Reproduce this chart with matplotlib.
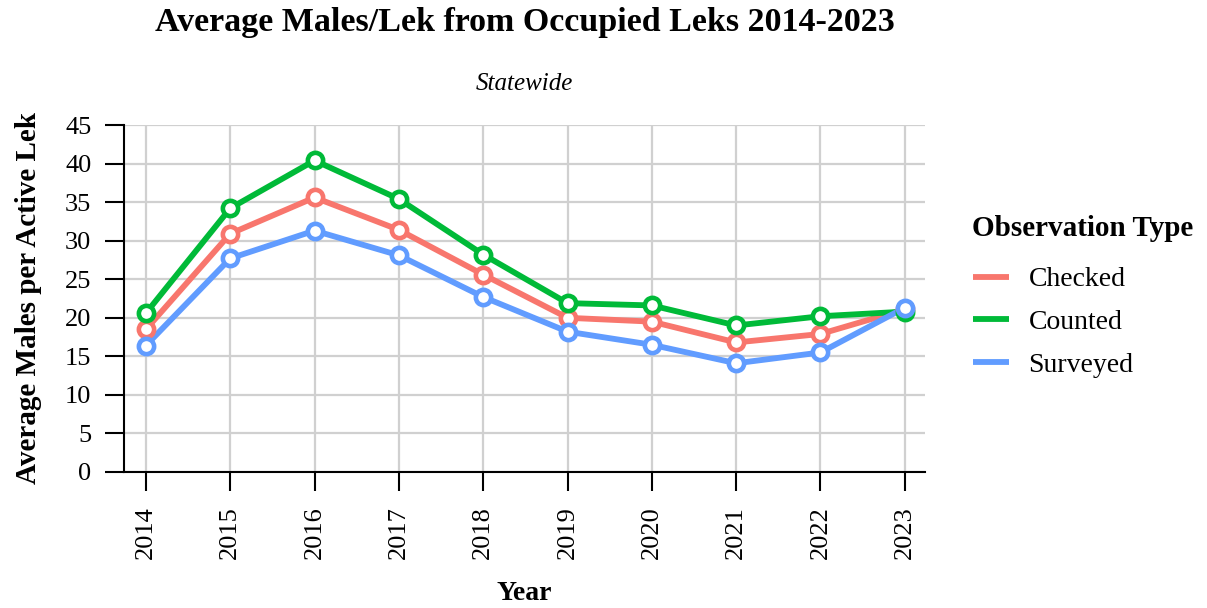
import matplotlib
matplotlib.use("Agg")
import matplotlib.pyplot as plt

years = [2014, 2015, 2016, 2017, 2018, 2019, 2020, 2021, 2022, 2023]
checked = [18.5, 30.9, 35.6, 31.4, 25.6, 20.0, 19.5, 16.8, 17.9, 21.1]
counted = [20.6, 34.2, 40.4, 35.4, 28.2, 21.9, 21.6, 19.0, 20.2, 20.8]
surveyed = [16.4, 27.7, 31.3, 28.1, 22.7, 18.2, 16.5, 14.1, 15.5, 21.3]

series_names = ["Checked", "Counted", "Surveyed"]
series_values = [checked, counted, surveyed]
series_colors = ["#F8766D", "#00BA38", "#619CFF"]

y_ticks = [0, 5, 10, 15, 20, 25, 30, 35, 40, 45]

plt.rcParams['font.family'] = ['Liberation Serif', 'DejaVu Serif']

fig = plt.figure(figsize=(12.07, 6.08), dpi=100)
ax = fig.add_axes([124 / 1207, 1 - 472 / 608, (925 - 124) / 1207, (472 - 125) / 608])

handles = []
for name, values, color in zip(series_names, series_values, series_colors):
    line, = ax.plot(years, values, color=color, linewidth=4.2, zorder=2, label=name,
                    solid_capstyle='butt')
    handles.append(line)
for values, color in zip(series_values, series_colors):
    ax.plot(years, values, linestyle='none', marker='o', markersize=11,
            markerfacecolor='white', markeredgecolor=color, markeredgewidth=3.3, zorder=3)

ax.set_xlim(2013.74, 2023.24)
ax.set_ylim(0, 45)
ax.set_xticks(years)
ax.set_xticklabels([str(y) for y in years], rotation=90)
ax.set_yticks(y_ticks)

ax.grid(True, color='#d0d0d0', linewidth=1.6, zorder=0)
ax.set_axisbelow(True)
for side in ['top', 'right']:
    ax.spines[side].set_visible(False)
for side in ['left', 'bottom']:
    ax.spines[side].set_linewidth(1.5)
ax.tick_params(axis='both', length=13.5, width=1.5, labelsize=19, color='black')
ax.tick_params(axis='x', pad=11)
ax.tick_params(axis='y', pad=10)

ax.set_ylabel('Average Males per Active Lek', fontsize=21, fontweight='bold', va='center')
ax.yaxis.set_label_coords((29 - 124) / 801, 0.5)
ax.set_xlabel('Year', fontsize=20, fontweight='bold', labelpad=16)

cx = (124 + 925) / 2 / 1207
fig.text(cx, 1 - 22 / 608, 'Average Males/Lek from Occupied Leks 2014-2023',
         ha='center', va='center', fontsize=24.5, fontweight='bold')
fig.text(cx, 1 - 84 / 608, 'Statewide', ha='center', va='center',
         fontsize=18, fontstyle='italic')

fig.text(972 / 1207, 1 - 228 / 608, 'Observation Type', ha='left', va='center',
         fontsize=21, fontweight='bold')
leg = fig.legend(handles=handles, loc='upper left',
                 bbox_to_anchor=(948 / 1207, 1 - 242 / 608), frameon=False,
                 fontsize=20, handlelength=1.3, handletextpad=0.7, labelspacing=0.62)

fig.savefig('out.png', dpi=100)
